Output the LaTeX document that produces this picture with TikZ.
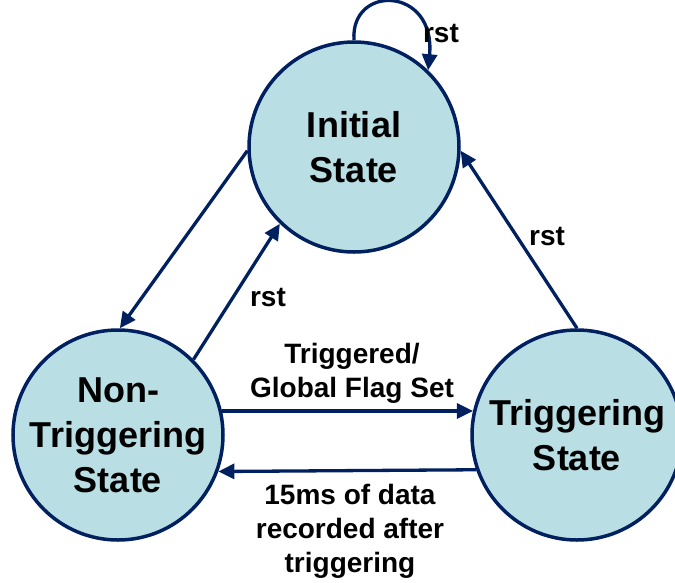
\documentclass[tikz,border=0pt]{standalone}
\usepackage{fontspec}
\setmainfont{Liberation Sans}
\usetikzlibrary{arrows.meta}
\definecolor{navy}{RGB}{0,32,96}
\definecolor{statefill}{RGB}{185,223,228}
\tikzset{
  statenode/.style={circle, draw=navy, fill=statefill, line width=3.5pt, minimum size=210pt, inner sep=0pt, align=center, font=\bfseries\fontsize{36}{45}\selectfont},
  trans/.style={draw=navy, line width=3.3pt, -{Triangle[length=16pt,width=15pt]}},
  lbl/.style={inner sep=0pt, align=center, font=\bfseries\fontsize{28}{34}\selectfont}
}
\begin{document}
\begin{tikzpicture}[x=1pt,y=-1pt]
\useasboundingbox (0,0) rectangle (675,582);
\node[statenode] (init) at (354,147) {Initial\\State};
\node[statenode] (non) at (118,435) {Non-\\Triggering\\State};
\node[statenode] (trig) at (577,435) {Triggering\\State};

\draw[trans] (init.90) .. controls (350,-16) and (436,-14) .. (init.46);
\draw[trans] (init.182) -- (non.89);
\draw[trans] (non.45) -- (init.226);
\draw[trans] (trig.90) -- (init.358);
\draw[trans] (non.13) -- (trig.167);
\draw[trans] (trig.199.5) -- (non.340.5);

\node[lbl, anchor=base] (l1) at (441,42) {rst};
\node[lbl, anchor=base] (l2) at (268,306) {rst};
\node[lbl, anchor=base] (l3) at (547,245) {rst};
\node[lbl] (l4) at (352,373) {Triggered/\\Global Flag Set};
\node[lbl] (l5) at (350,531) {15ms of data\\recorded after\\triggering};
\end{tikzpicture}
\end{document}
